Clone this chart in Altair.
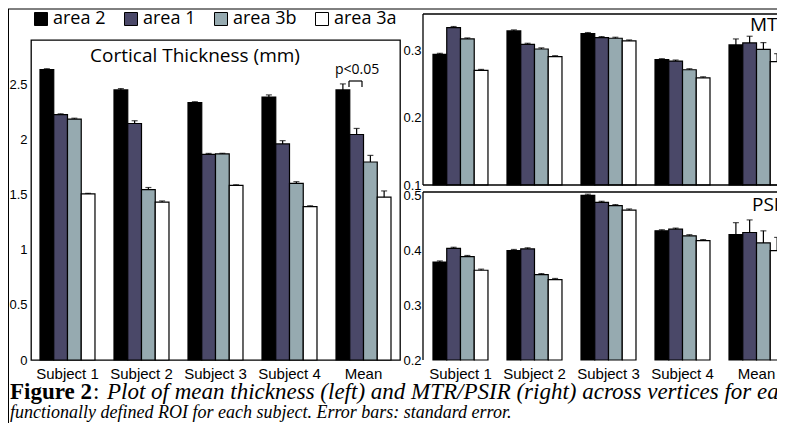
import altair as alt
import pandas as pd

groups = ["Subject 1", "Subject 2", "Subject 3", "Subject 4", "Mean"]
series = ["area 2", "area 1", "area 3b", "area 3a"]
colors = ["#000000", "#4a4868", "#96aab0", "#ffffff"]

# Cortical thickness (mm), one list per area across groups
thick_area2 = [2.64, 2.455, 2.34, 2.39, 2.455]
thick_area1 = [2.23, 2.15, 1.87, 1.964, 2.05]
thick_area3b = [2.19, 1.548, 1.873, 1.606, 1.80]
thick_area3a = [1.51, 1.436, 1.588, 1.394, 1.48]
thick_err_area2 = [0.008, 0.012, 0.008, 0.02, 0.055]
thick_err_area1 = [0.008, 0.025, 0.008, 0.03, 0.055]
thick_err_area3b = [0.008, 0.02, 0.006, 0.015, 0.06]
thick_err_area3a = [0.005, 0.01, 0.005, 0.008, 0.057]

# MTR
mtr_area2 = [0.295, 0.330, 0.326, 0.287, 0.309]
mtr_area1 = [0.335, 0.310, 0.320, 0.285, 0.312]
mtr_area3b = [0.318, 0.303, 0.319, 0.272, 0.3025]
mtr_area3a = [0.271, 0.2915, 0.315, 0.260, 0.284]
mtr_err_area2 = [0.0015, 0.0015, 0.0015, 0.0015, 0.009]
mtr_err_area1 = [0.0015, 0.0015, 0.0015, 0.0015, 0.010]
mtr_err_area3b = [0.0015, 0.0015, 0.0015, 0.0015, 0.010]
mtr_err_area3a = [0.0015, 0.0015, 0.0015, 0.0015, 0.012]

# PSIR
psir_area2 = [0.379, 0.400, 0.501, 0.436, 0.429]
psir_area1 = [0.404, 0.403, 0.488, 0.439, 0.433]
psir_area3b = [0.389, 0.356, 0.482, 0.427, 0.414]
psir_area3a = [0.364, 0.347, 0.474, 0.418, 0.400]
psir_err_area2 = [0.002, 0.002, 0.002, 0.002, 0.022]
psir_err_area1 = [0.002, 0.002, 0.002, 0.002, 0.023]
psir_err_area3b = [0.002, 0.002, 0.002, 0.002, 0.022]
psir_err_area3a = [0.002, 0.002, 0.002, 0.002, 0.024]

thick_ticks = [0, 0.5, 1, 1.5, 2, 2.5]
mtr_ticks = [0.1, 0.2, 0.3]
psir_ticks = [0.2, 0.3, 0.4, 0.5]

caption_bold = "Figure 2"
caption_line1 = "Plot of mean thickness (left) and MTR/PSIR (right) across vertices for each"
caption_line2 = "functionally defined ROI for each subject. Error bars: standard error."

table = {
    "area 2": (thick_area2, thick_err_area2, mtr_area2, mtr_err_area2, psir_area2, psir_err_area2),
    "area 1": (thick_area1, thick_err_area1, mtr_area1, mtr_err_area1, psir_area1, psir_err_area1),
    "area 3b": (thick_area3b, thick_err_area3b, mtr_area3b, mtr_err_area3b, psir_area3b, psir_err_area3b),
    "area 3a": (thick_area3a, thick_err_area3a, mtr_area3a, mtr_err_area3a, psir_area3a, psir_err_area3a),
}
rows = []
for s in series:
    t, te, m, me, p, pe = table[s]
    for i, g in enumerate(groups):
        rows.append(dict(group=g, series=s, thick=t[i], thick_err=te[i],
                         mtr=m[i], mtr_err=me[i], psir=p[i], psir_err=pe[i]))
df = pd.DataFrame(rows)

LABEL_FONT = "Liberation Sans"
SANS = "Open Sans"
SERIF = "Liberation Serif"

legend = alt.Legend(orient="none", legendX=1, legendY=-30, direction="horizontal",
                    title=None, symbolType="square", symbolSize=169,
                    symbolStrokeColor="black", symbolStrokeWidth=1, symbolOpacity=1,
                    labelFont=SANS, labelFontSize=18, labelColor="black",
                    labelOffset=3, columnPadding=16, padding=0)


def panel(val, err, domain, ticks, po, xrange, yrange, show_x, yoffset, label_pad):
    xs = dict(paddingInner=0.257, paddingOuter=po)
    if xrange is not None:
        xs["range"] = xrange
    if show_x:
        xaxis = alt.Axis(labelAngle=0, labelFont=LABEL_FONT, labelFontSize=15,
                         labelColor="black", labelPadding=6, ticks=False, domain=False,
                         orient="bottom")
    else:
        xaxis = None
    x = alt.X("group:N", sort=groups, title=None, axis=xaxis, scale=alt.Scale(**xs))
    xo = alt.XOffset("series:N", sort=series,
                     scale=alt.Scale(paddingInner=0, paddingOuter=0))
    ys = dict(domain=domain, nice=False, zero=False)
    if yrange is not None:
        ys["range"] = yrange
    yscale = alt.Scale(**ys)
    base = alt.Chart(df).transform_calculate(hi=f"datum.{val} + datum.{err}")
    bars = base.mark_bar(stroke="black", strokeWidth=1.2).encode(
        x=x, xOffset=xo,
        y=alt.Y(f"{val}:Q", scale=yscale, title=None,
                axis=alt.Axis(values=ticks, format="~g", ticks=False, domain=False,
                              grid=False, labelFont=LABEL_FONT, labelFontSize=13,
                              labelColor="black", labelPadding=label_pad,
                              orient="left", offset=yoffset)),
        y2=alt.datum(domain[0]),
        color=alt.Color("series:N", sort=series,
                        scale=alt.Scale(domain=series, range=colors), legend=legend),
    )
    rule = base.mark_rule(color="black", strokeWidth=1.2).encode(
        x=x, xOffset=xo, y=f"{val}:Q", y2="hi:Q")
    cap = base.mark_tick(color="black", thickness=1.2, size=6).encode(
        x=x, xOffset=xo, y="hi:Q")
    return alt.layer(bars, rule, cap)


def txt(s, x, y, **kw):
    return alt.Chart(pd.DataFrame({"t": [s]})).mark_text(**kw).encode(
        text="t:N", x=alt.value(x), y=alt.value(y))


def hline(x, x2, y, **kw):
    return alt.Chart(pd.DataFrame({"a": [0]})).mark_rule(**kw).encode(
        x=alt.value(x), x2=alt.value(x2), y=alt.value(y))


def vline(x, y, y2, **kw):
    return alt.Chart(pd.DataFrame({"a": [0]})).mark_rule(**kw).encode(
        x=alt.value(x), y=alt.value(y), y2=alt.value(y2))


# left panel occupies the chart's own plot area (369 x 320); the right panels are
# placed beside it through explicit pixel ranges of their own scales
RX0, RX1 = 392, 763
left_panel = panel("thick", "thick_err", [0, 2.909], thick_ticks, 0.1216,
                   None, None, True, 0, 4)
mtr_panel = panel("mtr", "mtr_err", [0.1, 0.3552], mtr_ticks, 0.135,
                  [RX0, RX1], [145, -26], False, -RX0, 2)
psir_panel = panel("psir", "psir_err", [0.2, 0.507], psir_ticks, 0.135,
                   [RX0, RX1], [320, 152], True, -RX0, 2)

K = dict(color="black", strokeWidth=1.3)
decor = [
    # right panel frames (right edges fall outside the page)
    hline(RX0, 780, -26, **K), vline(RX0, -26, 145, **K), hline(RX0, 780, 145, **K),
    hline(RX0, 780, 152, **K), vline(RX0, 152, 320, **K),
    # panel titles
    txt("Cortical Thickness (mm)", 164, 16, font=SANS, fontSize=19, align="center"),
    txt("MTR", 719, -15, font=SANS, fontSize=19, align="left"),
    txt("PSIR", 721, 165, font=SANS, fontSize=19, align="left"),
    txt("p<0.05", 326, 30, font=SANS, fontSize=14, align="center"),
    hline(318, 331, 41, color="black", strokeWidth=1.2),
    vline(318, 41, 47, color="black", strokeWidth=1.2),
    vline(331, 41, 47, color="black", strokeWidth=1.2),
    # figure frame
    vline(-22.5, -31, 400, color="black", strokeWidth=1),
    hline(-23, 780, -31, color="black", strokeWidth=1),
    # caption
    txt(caption_bold, -21, 359, font=SERIF, fontSize=23, fontWeight="bold",
        align="left", baseline="alphabetic"),
    txt(":", 62, 359, font=SERIF, fontSize=23, align="left", baseline="alphabetic"),
    txt(caption_line1, 76, 359, font=SERIF, fontSize=23, fontStyle="italic",
        align="left", baseline="alphabetic"),
    txt(caption_line2, -21, 378, font=SERIF, fontSize=18, fontStyle="italic",
        align="left", baseline="alphabetic"),
]

chart = alt.layer(left_panel, mtr_panel, psir_panel, *decor).resolve_scale(
    x="independent", y="independent", xOffset="independent"
).properties(
    width=369, height=320,
    autosize=alt.AutoSizeParams(type="none"),
    padding={"left": 23, "top": 32, "right": 377, "bottom": 63},
).configure_view(stroke="black", strokeWidth=1.3)

chart.save("out.html", embed_options={"renderer": "svg", "actions": False})
